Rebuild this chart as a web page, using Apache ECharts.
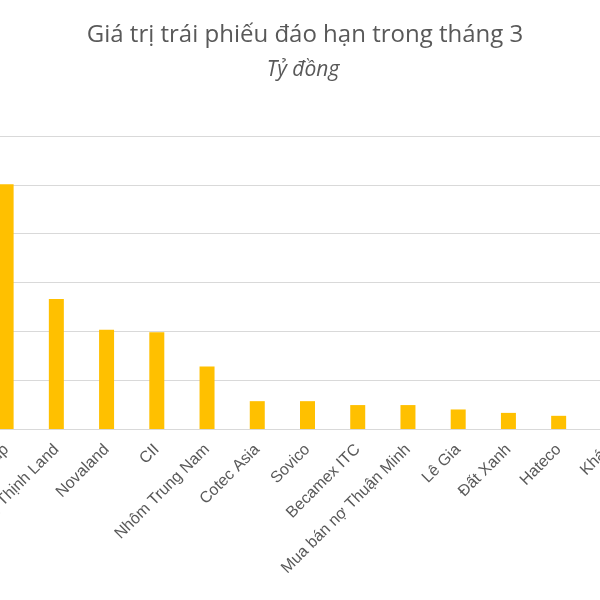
<!DOCTYPE html>
<html>
<head>
<meta charset="utf-8">
<script src="https://cdn.jsdelivr.net/npm/echarts@6/dist/echarts.min.js"></script>
<style>html,body{margin:0;padding:0;background:#fff}#c{width:600px;height:600px}</style>
</head>
<body>
<div id="c"></div>
<script>
var categories = ["Vingroup", "Hưng Thịnh Land", "Novaland", "CII", "Nhôm Trung Nam", "Cotec Asia", "Sovico", "Becamex ITC", "Mua bán nợ Thuận Minh", "Lê Gia", "Đất Xanh", "Hateco", "Khác"];
var values = [5010, 2660, 2030, 1980, 1280, 570, 570, 490, 490, 400, 330, 270, 250];
var yTicks = [0, 1000, 2000, 3000, 4000, 5000, 6000];
var titleText = "Giá trị trái phiếu đáo hạn trong tháng 3";
var unitText = "Tỷ đồng";

var chart = echarts.init(document.getElementById('c'));
chart.setOption({
  animation: false,
  title: [
    { text: titleText, left: 300, top: 18, textAlign: 'center',
      textStyle: { fontFamily: 'Open Sans', fontWeight: 'normal', fontSize: 24, color: '#595959' } },
    { text: unitText, left: 298, top: 55, textAlign: 'center',
      textStyle: { fontFamily: 'Open Sans', fontStyle: 'italic', fontWeight: 'normal', fontSize: 21, color: '#595959' } }
  ],
  grid: { left: -19, top: 136, width: 653, bottom: 171, containLabel: false, outerBoundsMode: 'none' },
  xAxis: {
    type: 'category',
    data: categories,
    axisLine: { lineStyle: { color: '#d9d9d9', width: 1 } },
    axisTick: { show: false },
    axisLabel: { rotate: 45, interval: 0, margin: 18, color: '#595959', fontFamily: 'Liberation Sans', fontSize: 16 }
  },
  yAxis: {
    type: 'value',
    min: yTicks[0],
    max: yTicks[yTicks.length - 1],
    interval: yTicks[1] - yTicks[0],
    axisLabel: { show: false },
    axisLine: { show: false },
    axisTick: { show: false },
    splitLine: { lineStyle: { color: '#d9d9d9', width: 1 } }
  },
  series: [{
    type: 'bar',
    data: values,
    barWidth: 15,
    itemStyle: { color: '#FFC000' }
  }]
});
</script>
</body>
</html>
